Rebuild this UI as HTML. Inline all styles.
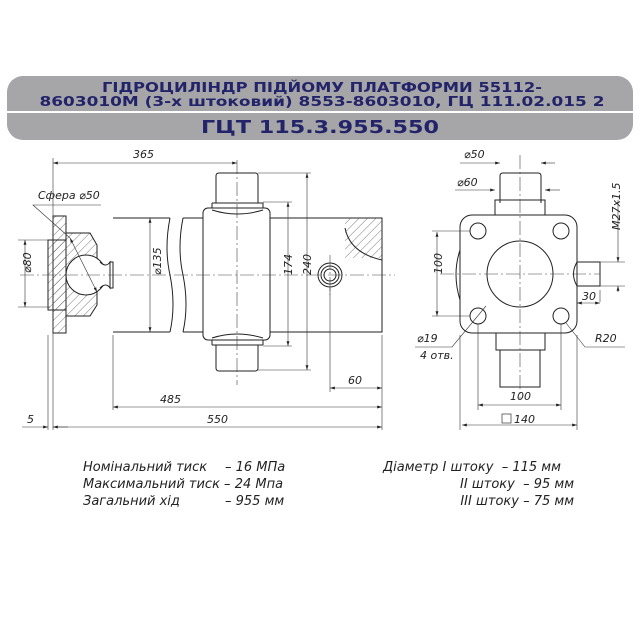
<!DOCTYPE html>
<html><head><meta charset="utf-8"><style>
html,body{margin:0;padding:0;background:#fff;}
svg{display:block}
.t{font-family:"DejaVu Sans","Liberation Sans",sans-serif;font-style:italic;fill:#222;}
</style></head><body>
<svg width="640" height="640" viewBox="0 0 640 640" xmlns="http://www.w3.org/2000/svg">
<defs>
<pattern id="h" width="6" height="6" patternUnits="userSpaceOnUse" patternTransform="rotate(45)">
<line x1="0" y1="0" x2="0" y2="6" stroke="#555" stroke-width="0.8"/></pattern>
<marker id="a" viewBox="0 0 10 6" refX="10" refY="3" markerWidth="8" markerHeight="5" orient="auto-start-reverse"><path d="M0,0L10,3L0,6z" fill="#222"/></marker>
</defs>
<!-- header -->
<rect x="7" y="76" width="626" height="64" rx="16" fill="#a6a6a8"/>
<line x1="7" y1="112" x2="633" y2="112" stroke="#fff" stroke-width="2"/>
<g font-family="DejaVu Sans,Liberation Sans,sans-serif" font-weight="bold" fill="#23236a" text-anchor="middle">
<text x="322" y="92" font-size="13" textLength="440" lengthAdjust="spacingAndGlyphs">ГІДРОЦИЛІНДР ПІДЙОМУ ПЛАТФОРМИ 55112-</text>
<text x="322" y="106" font-size="13" textLength="565" lengthAdjust="spacingAndGlyphs">8603010М (3-х штоковий) 8553-8603010, ГЦ 111.02.015 2</text>
<text x="320" y="133" font-size="18" textLength="238" lengthAdjust="spacingAndGlyphs">ГЦТ 115.3.955.550</text>
</g>
<g stroke="#222" fill="none" stroke-width="1">
<!-- left view -->
<rect x="53" y="216" width="13" height="117" fill="url(#h)"/>
<path d="M48,240 L66,240 L66,233 L90,233 L97,245 L97,305 L90,316 L66,316 L66,310 L48,310 Z" fill="url(#h)"/>
<circle cx="86" cy="275" r="20" fill="#fff"/>
<path d="M100,262 Q106,268 110,262 L110,288 Q106,282 100,288" fill="#fff"/>
<rect x="110" y="262" width="3" height="26"/>
<!-- body -->
<path d="M113,218 L170,218 M183,218 L382,218 L382,332 L183,332 M170,332 L113,332 Z"/>
<path d="M170,218 q-6,30 0,57 q6,30 0,57 M183,218 q-6,30 0,57 q6,30 0,57" />
<rect x="345" y="218" width="37" height="40" fill="url(#h)" stroke="none"/>
<path d="M345,228 q5,25 37,32"/>
<rect x="203" y="208" width="67" height="132" rx="5" fill="#fff"/>
<path d="M212,203 L263,203 L263,208 M212,203 L212,208 M212,345 L263,345 M212,340 L212,345 M263,340 L263,345"/>
<path d="M216,203 L216,176 Q216,173 219,173 L255,173 Q258,173 258,176 L258,203"/>
<path d="M216,345 L216,368 Q216,371 219,371 L255,371 Q258,371 258,368 L258,345"/>
<path d="M212,210 Q237,218 263,210 M212,338 Q237,330 263,338"/>
<circle cx="330" cy="275" r="12"/><circle cx="330" cy="275" r="9"/><circle cx="330" cy="275" r="6"/>
<!-- right view -->
<rect x="460" y="215" width="117" height="118" rx="12" fill="#fff"/>
<circle cx="520" cy="274" r="33"/>
<circle cx="478" cy="231" r="8"/><circle cx="561" cy="231" r="8"/>
<circle cx="478" cy="316" r="8"/><circle cx="561" cy="316" r="8"/>
<path d="M500,203 L500,176 Q500,173 503,173 L538,173 Q541,173 541,176 L541,203 M495,215 L495,200 L545,200 L545,215"/>
<path d="M496,333 L496,350 L545,350 L545,333 M500,350 L500,387 L540,387 L540,350"/>
<path d="M460,250 Q452,274 460,300 M577,262 Q570,274 577,286"/>
<rect x="577" y="262" width="23" height="24"/>
</g>
<!-- centerlines -->
<g stroke="#444" stroke-width="0.6" stroke-dasharray="14,3,2,3" fill="none">
<line x1="20" y1="275" x2="395" y2="275"/><line x1="237" y1="160" x2="237" y2="385"/>
<line x1="330" y1="255" x2="330" y2="295"/>
<line x1="440" y1="274" x2="600" y2="274"/><line x1="520" y1="155" x2="520" y2="400"/>
</g>
<!-- dimensions -->
<g stroke="#333" stroke-width="0.6" fill="none">
<line x1="53" y1="158" x2="53" y2="430"/><line x1="53" y1="163" x2="237" y2="163" marker-start="url(#a)" marker-end="url(#a)"/>
<line x1="25" y1="240" x2="25" y2="307" marker-start="url(#a)" marker-end="url(#a)"/>
<line x1="18" y1="240" x2="50" y2="240"/><line x1="18" y1="307" x2="50" y2="307"/>
<line x1="150" y1="218" x2="150" y2="332" marker-start="url(#a)" marker-end="url(#a)"/>
<line x1="288" y1="202" x2="288" y2="346" marker-start="url(#a)" marker-end="url(#a)"/>
<line x1="263" y1="202" x2="292" y2="202"/><line x1="263" y1="346" x2="292" y2="346"/>
<line x1="307" y1="173" x2="307" y2="370" marker-start="url(#a)" marker-end="url(#a)"/>
<line x1="258" y1="173" x2="311" y2="173"/><line x1="258" y1="370" x2="311" y2="370"/>
<line x1="330" y1="288" x2="330" y2="392"/><line x1="382" y1="335" x2="382" y2="430"/>
<line x1="330" y1="388" x2="382" y2="388" marker-start="url(#a)" marker-end="url(#a)"/>
<line x1="113" y1="335" x2="113" y2="410"/>
<line x1="113" y1="407" x2="382" y2="407" marker-start="url(#a)" marker-end="url(#a)"/>
<line x1="53" y1="427" x2="382" y2="427" marker-end="url(#a)"/>
<line x1="48" y1="335" x2="48" y2="430"/><line x1="22" y1="427" x2="48" y2="427" marker-end="url(#a)"/>
<line x1="68" y1="427" x2="53" y2="427" marker-end="url(#a)"/>
<polyline points="101,205 33,205 70,238"/><line x1="70" y1="238" x2="97" y2="292" marker-start="url(#a)" marker-end="url(#a)"/>
<!-- right dims -->
<line x1="460" y1="163" x2="500" y2="163" marker-end="url(#a)"/><line x1="555" y1="163" x2="541" y2="163" marker-end="url(#a)"/>
<line x1="455" y1="190" x2="495" y2="190" marker-end="url(#a)"/><line x1="560" y1="190" x2="545" y2="190" marker-end="url(#a)"/>
<line x1="437" y1="232" x2="437" y2="316" marker-start="url(#a)" marker-end="url(#a)"/>
<line x1="432" y1="231" x2="470" y2="231"/><line x1="432" y1="316" x2="470" y2="316"/>
<line x1="478" y1="324" x2="478" y2="410"/><line x1="561" y1="324" x2="561" y2="410"/>
<line x1="478" y1="405" x2="561" y2="405" marker-start="url(#a)" marker-end="url(#a)"/>
<line x1="460" y1="335" x2="460" y2="430"/><line x1="577" y1="335" x2="577" y2="430"/>
<line x1="462" y1="425" x2="577" y2="425" marker-start="url(#a)" marker-end="url(#a)"/>
<line x1="600" y1="262" x2="625" y2="262"/><line x1="600" y1="286" x2="625" y2="286"/>
<line x1="618" y1="200" x2="618" y2="262" marker-end="url(#a)"/><line x1="618" y1="292" x2="618" y2="286" marker-end="url(#a)"/>
<line x1="600" y1="290" x2="600" y2="302"/>
<line x1="577" y1="303" x2="600" y2="303" marker-start="url(#a)" marker-end="url(#a)"/>
<polyline points="415,347 452,347 486,306"/>
<polyline points="625,347 585,347 566,323"/>
</g>
<rect x="502" y="414" width="9" height="9" fill="none" stroke="#333" stroke-width="0.7"/>
<g class="t" font-size="11">
<text x="133" y="158">365</text>
<text x="38" y="199">Сфера ⌀50</text>
<text x="21" y="283" transform="rotate(-90 21 273)">⌀80</text>
<text x="146" y="290" transform="rotate(-90 146 275)">⌀135</text>
<text x="284" y="283" transform="rotate(-90 284 275)">174</text>
<text x="303" y="283" transform="rotate(-90 303 275)">240</text>
<text x="348" y="384">60</text>
<text x="160" y="403">485</text>
<text x="207" y="423">550</text>
<text x="27" y="423">5</text>
<text x="464" y="158">⌀50</text>
<text x="457" y="186">⌀60</text>
<text x="433" y="283" transform="rotate(-90 433 274)">100</text>
<text x="612" y="238" transform="rotate(-90 612 230)">M27x1.5</text>
<text x="582" y="300">30</text>
<text x="417" y="342">⌀19</text>
<text x="420" y="359">4 отв.</text>
<text x="595" y="342">R20</text>
<text x="510" y="400">100</text>
<text x="514" y="423">140</text>
</g>
<g class="t" font-size="13">
<text x="83" y="471">Номінальний тиск</text><text x="225" y="471">– 16 МПа</text>
<text x="83" y="488">Максимальний тиск – 24 Мпа</text>
<text x="83" y="505">Загальний хід</text><text x="225" y="505">– 955 мм</text>
<text x="383" y="471">Діаметр I штоку&#160; – 115 мм</text>
<text x="574" y="488" text-anchor="end">II штоку&#160; – 95 мм</text>
<text x="574" y="505" text-anchor="end">III штоку – 75 мм</text>
</g>
</svg>
</body></html>
